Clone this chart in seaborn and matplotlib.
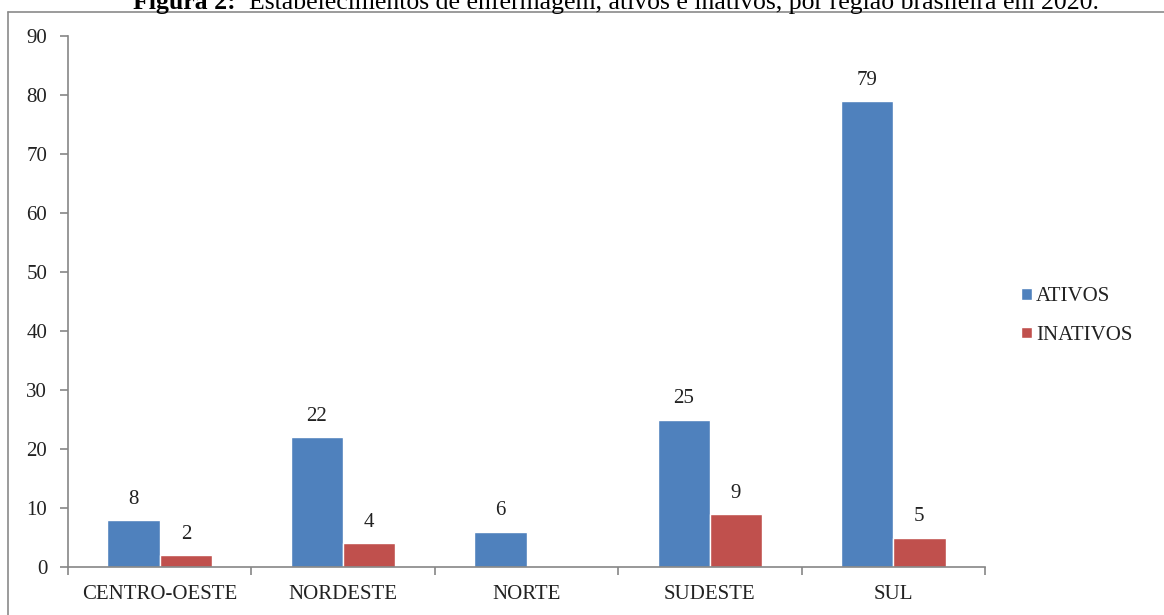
import numpy as np
import pandas as pd
import matplotlib
matplotlib.use("Agg")
import matplotlib.pyplot as plt
from matplotlib.lines import Line2D
from matplotlib.ticker import FixedLocator, NullFormatter
import seaborn as sns

# Data: nursing establishments by Brazilian region, 2020
regioes = ["CENTRO-OESTE", "NORDESTE", "NORTE", "SUDESTE", "SUL"]
ativos = [8, 22, 6, 25, 79]
inativos = [2, 4, np.nan, 9, 5]
series = ["ATIVOS", "INATIVOS"]
y_ticks = [0, 10, 20, 30, 40, 50, 60, 70, 80, 90]

titulo_bold = "Figura 2:"
titulo_resto = "  Estabelecimentos de enfermagem, ativos e inativos, por região brasileira em 2020."

df = pd.DataFrame({
    "regiao": regioes * 2,
    "valor": ativos + inativos,
    "situacao": [series[0]] * len(regioes) + [series[1]] * len(regioes),
})

sns.set_style("white")
plt.rcParams["font.family"] = ["Liberation Serif", "DejaVu Serif"]

W, H, DPI = 1164, 615, 100
fig = plt.figure(figsize=(W / DPI, H / DPI), dpi=DPI)
ax = fig.add_axes([68 / W, 1 - 567 / H, (985 - 68) / W, (567 - 36) / H])

colors = ["#4F81BD", "#C0504D"]
sns.barplot(data=df, x="regiao", y="valor", hue="situacao", order=regioes,
            hue_order=series, palette=colors, saturation=1, width=0.57,
            ax=ax, legend=True)

# value labels above each bar
for cont in ax.containers:
    ax.bar_label(cont, fmt="%g", padding=8, fontsize=15, color="#222222")

# axes styling
ax.set_xlim(-0.5, len(regioes) - 0.5)
ax.set_ylim(0, 90)
ax.set_yticks(y_ticks)
ax.set_xlabel("")
ax.set_ylabel("")
for s in ["top", "right"]:
    ax.spines[s].set_visible(False)
for s in ["left", "bottom"]:
    ax.spines[s].set_color("#868686")
    ax.spines[s].set_linewidth(1.2)

# ticks at category boundaries, labels at category centres
ax.xaxis.set_major_locator(FixedLocator(np.arange(-0.5, len(regioes), 1.0)))
ax.xaxis.set_major_formatter(NullFormatter())
ax.xaxis.set_minor_locator(FixedLocator(np.arange(len(regioes))))
ax.set_xticklabels(regioes, minor=True)
ax.tick_params(axis="x", which="major", length=6, width=1.2, color="#868686",
               direction="out", bottom=True)
ax.tick_params(axis="x", which="minor", length=0, pad=13, labelsize=15,
               labelcolor="#222222")
ax.tick_params(axis="y", length=6, width=1.2, color="#868686", direction="out",
               left=True, pad=9, labelsize=15, labelcolor="#222222")

# legend at the right
handles, labels = ax.get_legend_handles_labels()
leg = ax.legend(handles, labels, loc="center left",
                bbox_to_anchor=(1013 / W, 1 - 316 / H),
                bbox_transform=fig.transFigure, frameon=False, fontsize=15,
                handlelength=0.5, handleheight=0.5, handletextpad=0.2,
                labelspacing=0.95, borderaxespad=0)
for t in leg.get_texts():
    t.set_color("#222222")

# outer chart frame
fig.add_artist(Line2D([8 / W, 8 / W], [0, 1 - 12 / H], transform=fig.transFigure,
                      color="#8a8a8a", lw=1.2))
fig.add_artist(Line2D([8 / W, 1], [1 - 12 / H, 1 - 12 / H], transform=fig.transFigure,
                      color="#8a8a8a", lw=1.2))

# caption above the chart: bold label followed by normal text
fig.canvas.draw()
renderer = fig.canvas.get_renderer()
ty = 1 - 9 / H
x0 = 133
t1 = fig.text(x0 / W, ty, titulo_bold, fontsize=18.5, fontweight="bold",
              va="baseline", color="black")
w1 = t1.get_window_extent(renderer).width
fig.text((x0 + w1) / W, ty, titulo_resto, fontsize=18.5, va="baseline",
         color="black")

fig.savefig("out.png", dpi=DPI)
